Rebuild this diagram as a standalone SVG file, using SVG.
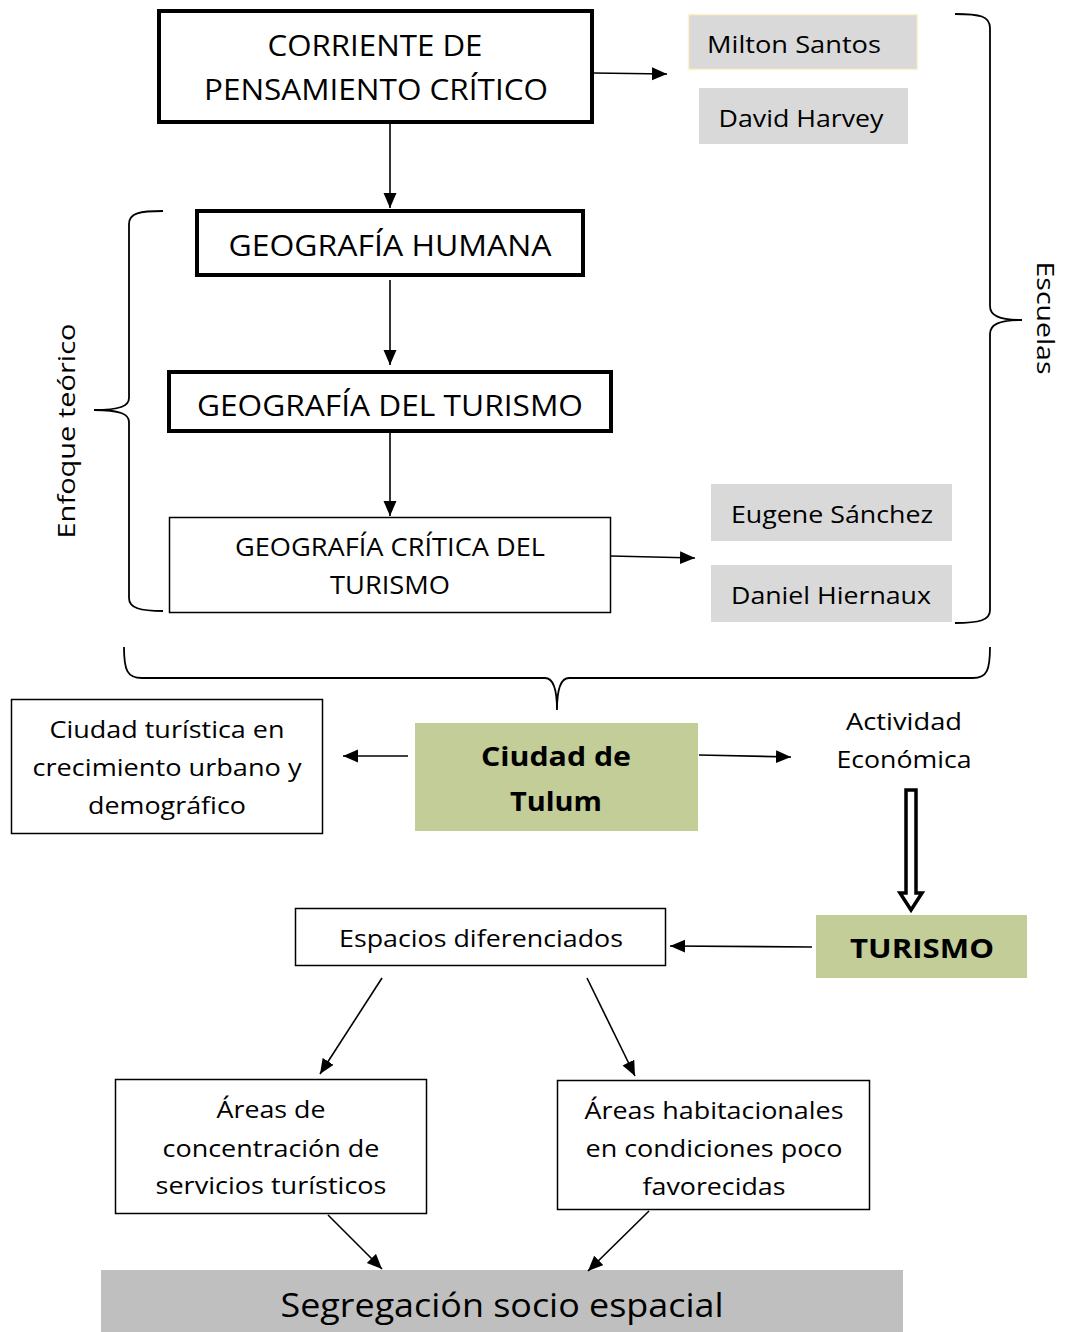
<svg xmlns="http://www.w3.org/2000/svg" width="1065" height="1332" viewBox="0 0 1065 1332">
<style>
text{font-family:"Open Sans","Noto Sans","DejaVu Sans",sans-serif;fill:#000;text-anchor:middle}
.big{font-size:29px}
.cap{font-size:25.5px}
.mid{font-size:23.5px}
.bold{font-size:27px;font-weight:bold}
.thick{fill:#fff;stroke:#000;stroke-width:4}
.thin{fill:#fff;stroke:#000;stroke-width:1.5}
.grey{fill:#d9d9d9}
.green{fill:#c2cd97}
.con line,.con path.l{stroke:#000;stroke-width:1.6;fill:none}
.brace{fill:none;stroke:#000;stroke-width:1.8}
</style>
<defs>
<marker id="ah" markerUnits="userSpaceOnUse" markerWidth="16" markerHeight="14" refX="15" refY="6.5" orient="auto">
<path d="M0,0 L15,6.5 L0,13 z" fill="#000"/>
</marker>
</defs>
<rect width="1065" height="1332" fill="#fff"/>

<g id="n-corriente">
<rect x="159" y="11" width="433" height="111" class="thick"/>
<text class="big" x="375" y="55.5" textLength="215" lengthAdjust="spacingAndGlyphs">CORRIENTE DE</text>
<text class="big" x="376" y="99.5" textLength="344" lengthAdjust="spacingAndGlyphs">PENSAMIENTO CRÍTICO</text>
</g>
<g id="n-milton">
<rect x="688.5" y="14.5" width="229" height="55" class="grey" stroke="#fff2cc" stroke-width="1.5"/>
<text class="mid" x="794" y="53" textLength="174" lengthAdjust="spacingAndGlyphs">Milton Santos</text>
</g>
<g id="n-harvey">
<rect x="699" y="88" width="209" height="56" class="grey"/>
<text class="mid" x="801" y="127" textLength="165" lengthAdjust="spacingAndGlyphs">David Harvey</text>
</g>
<g id="n-humana">
<rect x="197" y="211" width="386" height="64" class="thick"/>
<text class="big" x="390" y="255.5" textLength="323" lengthAdjust="spacingAndGlyphs">GEOGRAFÍA HUMANA</text>
</g>
<g id="n-turismo-geo">
<rect x="169" y="372" width="442" height="59" class="thick"/>
<text class="big" x="390" y="415.5" textLength="386" lengthAdjust="spacingAndGlyphs">GEOGRAFÍA DEL TURISMO</text>
</g>
<g id="n-critica">
<rect x="169.5" y="517.5" width="441" height="95" class="thin"/>
<text class="cap" x="390" y="556" textLength="310" lengthAdjust="spacingAndGlyphs">GEOGRAFÍA CRÍTICA DEL</text>
<text class="cap" x="390" y="594" textLength="120" lengthAdjust="spacingAndGlyphs">TURISMO</text>
</g>
<g id="n-eugene">
<rect x="711" y="484" width="241" height="57" class="grey"/>
<text class="mid" x="832" y="523" textLength="202" lengthAdjust="spacingAndGlyphs">Eugene Sánchez</text>
</g>
<g id="n-hiernaux">
<rect x="711" y="565" width="241" height="57" class="grey"/>
<text class="mid" x="831" y="604" textLength="200" lengthAdjust="spacingAndGlyphs">Daniel Hiernaux</text>
</g>
<g id="n-escuelas">
<path class="brace" d="M955,14 C980,14 990,16 990,28 L990,306 C990,315 998,320 1022,320 C998,320 990,325 990,334 L990,610 C990,620 980,623 955,623"/>
<text class="mid" transform="translate(1037,318) rotate(90)" textLength="113" lengthAdjust="spacingAndGlyphs">Escuelas</text>
</g>
<g id="n-enfoque">
<path class="brace" d="M163,211 C140,211 129,213 129,224 L129,398 C129,406 120,410 94,410 C120,410 129,414 129,422 L129,598 C129,608 140,611 163,611"/>
<text class="mid" transform="translate(75,431) rotate(-90)" textLength="215" lengthAdjust="spacingAndGlyphs">Enfoque teórico</text>
</g>
<g id="n-brace-bottom">
<path class="brace" d="M124,647 C124,670 127,678 142,678 L545,678 C553,678 557,690 557,710 C557,690 561,678 569,678 L973,678 C987,678 990,670 990,647"/>
</g>
<g id="n-ciudad-turistica">
<rect x="11.5" y="699.5" width="311" height="134" class="thin"/>
<text class="mid" x="167" y="738" textLength="235" lengthAdjust="spacingAndGlyphs">Ciudad turística en</text>
<text class="mid" x="167" y="776" textLength="269" lengthAdjust="spacingAndGlyphs">crecimiento urbano y</text>
<text class="mid" x="167" y="814" textLength="158" lengthAdjust="spacingAndGlyphs">demográfico</text>
</g>
<g id="n-tulum">
<rect x="415" y="723" width="283" height="108" class="green"/>
<text class="bold" x="556" y="766" textLength="150" lengthAdjust="spacingAndGlyphs">Ciudad de</text>
<text class="bold" x="556" y="811" textLength="92" lengthAdjust="spacingAndGlyphs">Tulum</text>
</g>
<g id="n-actividad">
<text class="mid" x="904" y="730" textLength="116" lengthAdjust="spacingAndGlyphs">Actividad</text>
<text class="mid" x="904" y="768" textLength="135" lengthAdjust="spacingAndGlyphs">Económica</text>
</g>
<g id="n-turismo">
<rect x="816" y="915" width="211" height="63" class="green"/>
<text class="bold" x="922" y="958" textLength="144" lengthAdjust="spacingAndGlyphs">TURISMO</text>
</g>
<g id="n-espacios">
<rect x="295.5" y="908.5" width="370" height="57" class="thin"/>
<text class="mid" x="481" y="947" textLength="284" lengthAdjust="spacingAndGlyphs">Espacios diferenciados</text>
</g>
<g id="n-areas-servicios">
<rect x="115.5" y="1079.5" width="311" height="134" class="thin"/>
<text class="mid" x="271" y="1118" textLength="109" lengthAdjust="spacingAndGlyphs">Áreas de</text>
<text class="mid" x="271" y="1157" textLength="217" lengthAdjust="spacingAndGlyphs">concentración de</text>
<text class="mid" x="271" y="1194" textLength="231" lengthAdjust="spacingAndGlyphs">servicios turísticos</text>
</g>
<g id="n-areas-habitacionales">
<rect x="557.5" y="1080.5" width="312" height="129" class="thin"/>
<text class="mid" x="714" y="1119" textLength="259" lengthAdjust="spacingAndGlyphs">Áreas habitacionales</text>
<text class="mid" x="714" y="1157" textLength="257" lengthAdjust="spacingAndGlyphs">en condiciones poco</text>
<text class="mid" x="714" y="1195" textLength="143" lengthAdjust="spacingAndGlyphs">favorecidas</text>
</g>
<g id="n-segregacion">
<rect x="101" y="1270" width="802" height="62" fill="#bfbfbf"/>
<text x="502" y="1317" font-size="33" textLength="443" lengthAdjust="spacingAndGlyphs">Segregación socio espacial</text>
</g>

<g id="connectors" class="con">
<line x1="593" y1="73" x2="667" y2="74" marker-end="url(#ah)"/>
<line x1="390" y1="124" x2="390" y2="208" marker-end="url(#ah)"/>
<line x1="390" y1="280" x2="390" y2="365" marker-end="url(#ah)"/>
<line x1="390" y1="433" x2="390" y2="516" marker-end="url(#ah)"/>
<line x1="611" y1="556" x2="695" y2="558" marker-end="url(#ah)"/>
<line x1="408" y1="756" x2="343" y2="756" marker-end="url(#ah)"/>
<line x1="699" y1="755" x2="791" y2="757" marker-end="url(#ah)"/>
<path d="M906,790 L916,790 L916,893 L922,893 L911,910 L900,893 L906,893 Z" fill="#fff" stroke="#000" stroke-width="3.5" stroke-linejoin="miter"/>
<line x1="812" y1="947" x2="670" y2="946" marker-end="url(#ah)"/>
<line x1="382" y1="978" x2="320" y2="1074" marker-end="url(#ah)"/>
<line x1="587" y1="978" x2="635" y2="1076" marker-end="url(#ah)"/>
<line x1="328" y1="1215" x2="382" y2="1269" marker-end="url(#ah)"/>
<line x1="649" y1="1211" x2="588" y2="1271" marker-end="url(#ah)"/>
</g>
</svg>
